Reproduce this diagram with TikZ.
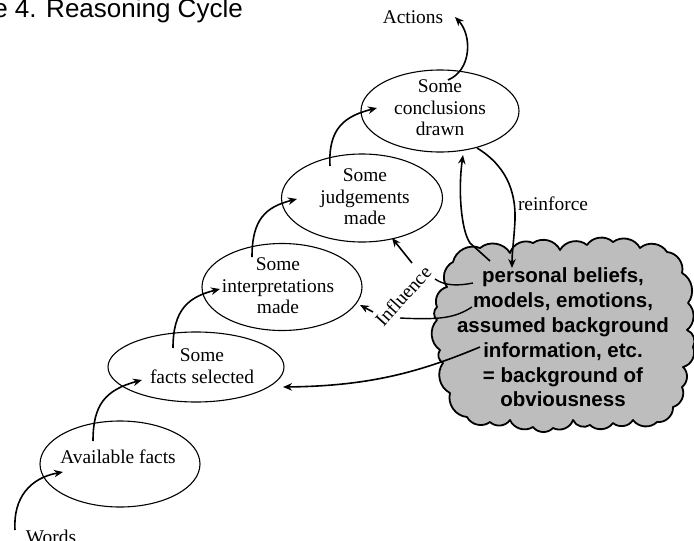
\documentclass[tikz,border=0pt]{standalone}
\usepackage{fontspec}
\setmainfont{Liberation Serif}
\newfontfamily\headfont{Liberation Sans}
\usetikzlibrary{shapes.geometric,arrows.meta}

\begin{document}
\begin{tikzpicture}[x=1pt,y=-1pt,
  stage/.style={draw,ellipse,line width=1.1pt,inner sep=0pt},
  stagetext/.style={inner sep=0pt,align=center,font=\fontsize{19.4}{21.5}\selectfont},
  lbl/.style={inner sep=0pt,font=\fontsize{19.4}{21.5}\selectfont},
  flow/.style={line width=1.6pt,-{Stealth[length=9pt,width=7.5pt]}},
  tie/.style={line width=1.4pt},
  puff/.style={bend left=50}]

\path[use as bounding box] (0,0) rectangle (694,541);

% title
\node[inner sep=0pt,anchor=base east,font=\headfont\fontsize{26}{30}\selectfont] (title) at (243,17.5) {e 4. Reasoning Cycle};

% the ladder of stages
\node[stage,minimum width=160pt,minimum height=86pt] (avail)  at (120,464) {};
\node[stage,minimum width=176pt,minimum height=70pt] (facts)  at (196,367) {};
\node[stage,minimum width=160pt,minimum height=87pt] (interp) at (282,287) {};
\node[stage,minimum width=161pt,minimum height=88pt] (judge)  at (362,198) {};
\node[stage,minimum width=158pt,minimum height=82pt] (concl)  at (440,111) {};

\node[lbl,anchor=base] (availtxt) at (118,463) {Available facts};
\node[stagetext] (factstxt)  at (202,366) {Some\\facts selected};
\node[stagetext] (interptxt) at (278,286) {Some\\interpretations\\made};
\node[stagetext] (judgetxt)  at (365,197) {Some\\judgements\\made};
\node[stagetext] (concltxt)  at (440,108) {Some\\conclusions\\drawn};

% free labels
\node[lbl,anchor=base] (actions) at (413,23) {Actions};
\node[lbl,anchor=base] (words) at (51,543) {Words};
\node[lbl,anchor=base] (reinf) at (553,210) {reinforce};
\node[lbl,rotate=48] (infl) at (403,296) {Influence};

% the cloud of background beliefs
\filldraw[fill=black!26,line width=1.8pt,line join=round]
  (453,262) to[puff] (480,248) to[puff] (510,253) to[puff] (533,243)
  to[puff] (560,250) to[puff] (587,245) to[puff] (613,242) to[puff] (640,248)
  to[puff] (667,252) to[puff] (682,273) to[puff] (688,303) to[puff] (687,330)
  to[puff] (693,347) to[puff] (683,367) to[puff] (682,387) to[puff] (673,407)
  to[puff] (657,422) to[puff] (633,420) to[puff] (613,423) to[puff] (590,425)
  to[puff] (573,420) to[puff] (553,428) to[puff] (533,427) to[puff] (510,420)
  to[puff] (490,422) to[puff] (467,417) to[puff] (450,393) to[puff] (443,363)
  to[puff] (440,350) to[puff] (437,320) to[puff] (437,307) to[puff] (447,287)
  to[puff] cycle;
\node[inner sep=0pt,align=center,font=\headfont\bfseries\fontsize{20.5}{24.8}\selectfont] (beliefs) at (563,337.5)
  {personal beliefs,\\models, emotions,\\assumed background\\information, etc.\\= background of\\obviousness};

% connector end points
\coordinate (wordsA) at (15,530);   \coordinate (wordsB) at (63,472);
\coordinate (availA) at (93,441);   \coordinate (factsB) at (142,380);
\coordinate (factsA) at (173,348);  \coordinate (interpB) at (220,289);
\coordinate (interpA) at (252,257); \coordinate (judgeB) at (297,199);
\coordinate (judgeA) at (330,166);  \coordinate (conclB) at (377,108);
\coordinate (conclA) at (448,80);   \coordinate (actB) at (455,17);
\coordinate (reinfA) at (477,148);  \coordinate (reinfB) at (512,268);
\coordinate (backA) at (490,261);   \coordinate (backB) at (463,155);
\coordinate (inflJ) at (392,238);   \coordinate (inflJs) at (412,263);
\coordinate (inflI) at (360,305);   \coordinate (inflIs) at (373,312);
\coordinate (persA) at (473,283);   \coordinate (persB) at (435,279);
\coordinate (modA) at (472,307);    \coordinate (modB) at (400,318);
\coordinate (infoA) at (480,347);   \coordinate (infoB) at (283,387);

% climbing the ladder
\draw[flow] (wordsA) .. controls (13,498) and (30,478) .. (wordsB);
\draw[flow] (availA) .. controls (93,405) and (105,390) .. (factsB);
\draw[flow] (factsA) .. controls (173,310) and (188,297) .. (interpB);
\draw[flow] (interpA) .. controls (252,220) and (265,207) .. (judgeB);
\draw[flow] (judgeA) .. controls (328,128) and (345,116) .. (conclB);
\draw[flow] (conclA) .. controls (472,70) and (472,35) .. (actB);

% feedback between conclusions and beliefs
\draw[flow] (reinfA) .. controls (505,165) and (516,190) .. (515,220)
  .. controls (514,240) and (512,252) .. (reinfB);
\draw[flow] (backA) -- (470,243) .. controls (461,230) and (458,190) .. (backB);

% influence of the beliefs
\draw[tie] (persA) .. controls (458,286) and (445,286) .. (persB);
\draw[tie] (modA) .. controls (455,318) and (440,320) .. (modB);
\draw[flow] (inflJs) -- (inflJ);
\draw[flow] (inflIs) -- (inflI);
\draw[flow] (infoA) .. controls (420,372) and (370,386) .. (infoB);
\end{tikzpicture}
\end{document}
